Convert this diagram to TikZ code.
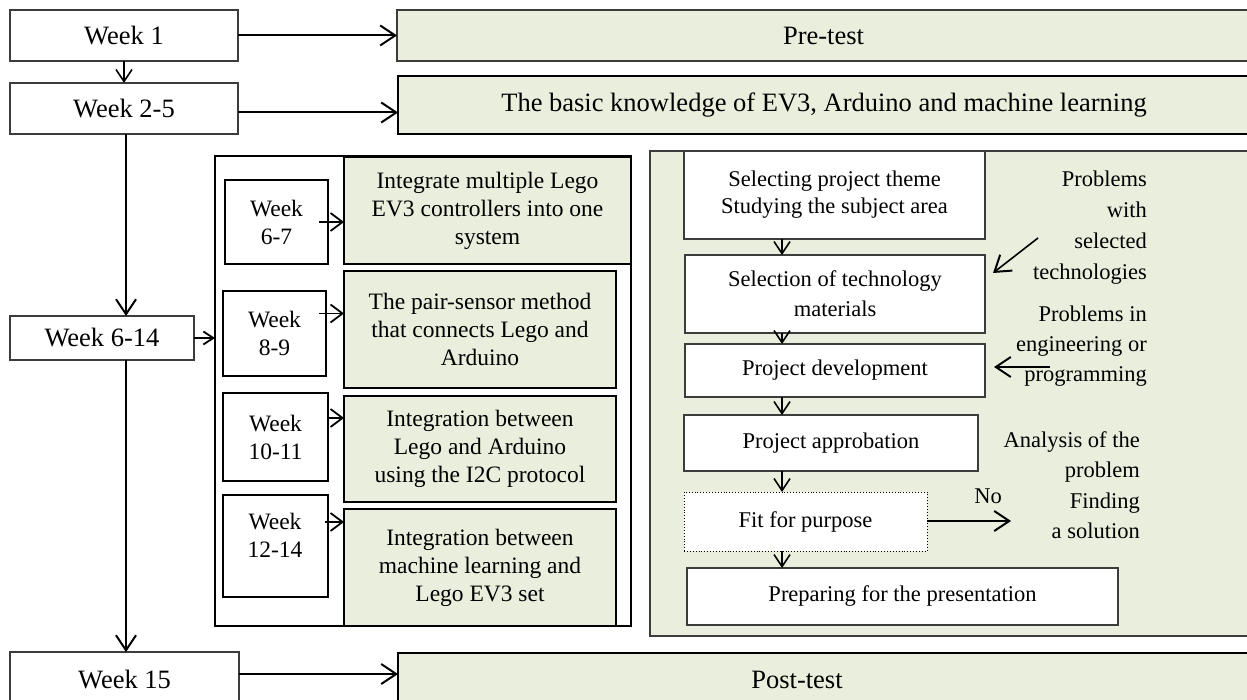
\documentclass[tikz,border=0pt]{standalone}
\usepackage{fontspec}
\setmainfont{Liberation Serif}
\usetikzlibrary{arrows.meta,calc}
\definecolor{gfill}{RGB}{234,238,221}
\definecolor{bgray}{RGB}{60,60,60}
\begin{document}
\begin{tikzpicture}[x=1pt,y=-1pt,
  box/.style={inner sep=0pt, outer sep=0pt, align=center, anchor=north west},
  sz/.style 2 args={minimum width=#1pt, minimum height=#2pt},
  mainf/.style={font=\fontsize{26.5}{30}\selectfont},
  innf/.style={font=\fontsize{23.5}{28}\selectfont},
  panf/.style={font=\fontsize{22.5}{27}\selectfont},
  wb/.style={box, draw=bgray, line width=1.2pt, fill=white},
  ib/.style={box, draw=black, line width=1.6pt, fill=white},
  gb/.style={box, draw=black, line width=1.8pt, fill=gfill},
  arr/.style={line width=2pt, -{Straight Barb[length=15pt,width=20pt,line width=2pt]}},
  iarr/.style={line width=1.8pt, -{Straight Barb[length=12pt,width=18pt,line width=1.8pt]}},
  sarr/.style={line width=1.6pt, -{Straight Barb[length=12pt,width=16pt,line width=1.6pt]}},
  rtxt/.style={anchor=east, align=right, inner sep=0pt, font=\fontsize{22.5}{31}\selectfont}
]
\useasboundingbox (0,0) rectangle (1247,700);
\clip (0,0) rectangle (1247,700);

% left column
\node[wb, mainf, sz={228}{51}] (w1) at (10,10) {Week 1};
\node[wb, mainf, sz={228}{51}] (w2) at (10,83) {Week 2-5};
\node[wb, mainf, sz={184}{44}] (w614) at (10,316) {Week 6-14};
\node[wb, mainf, sz={229}{56}] (w15) at (10,652) {Week 15};

% wide green boxes
\node[gb, mainf, line width=1.3pt, draw=bgray, sz={853}{51}] (pre) at (397,10) {Pre-test};
\node[gb, mainf, sz={852}{58}] (kn) at (398,76) {The basic knowledge of EV3, Arduino and machine learning};
\node[gb, line width=1.3pt, sz={852}{60}] (post) at (398,653) {};
\node[mainf, inner sep=0pt] (posttxt) at (797,680) {Post-test};

% inner container
\node[ib, line width=1.8pt, sz={416}{470}] (outer) at (215,156) {};
\node[ib, innf, sz={103}{84}] (w67) at (225,180) {Week\\6-7};
\node[gb, innf, sz={287}{107}] (g1) at (344,157) {Integrate multiple Lego\\EV3 controllers into one\\system};
\node[ib, innf, sz={103}{85}] (w89) at (223,291) {Week\\8-9};
\node[gb, innf, sz={272}{117}] (g2) at (344,271) {The pair-sensor method\\that connects Lego and\\Arduino};
\node[ib, innf, sz={105}{88}] (w1011) at (223,393) {Week\\10-11};
\node[gb, innf, sz={272}{106}] (g3) at (344,396) {Integration between\\Lego and Arduino\\using the I2C protocol};
\node[ib, innf, sz={105}{102}] (w1214) at (223,495) {};
\node[innf, inner sep=0pt, align=center] (w1214t) at (275,535) {Week\\12-14};
\node[gb, innf, sz={272}{117}] (g4) at (344,509) {Integration between\\machine learning and\\Lego EV3 set};

% right panel
\node[gb, draw=bgray, line width=1.3pt, sz={600}{485}] (panel) at (650,151) {};
\node[wb, panf, sz={301}{88}] (sel) at (684,151) {Selecting project theme\\Studying the subject area};
\node[wb, panf, sz={300}{78}] (tech) at (685,255) {Selection of technology\\[3pt]materials};
\node[wb, panf, sz={300}{53}] (dev) at (685,344) {Project development};
\node[wb, panf, sz={294}{56}] (appr) at (684,415) {Project approbation};
\node[box, panf, draw=black, line width=0.9pt, dotted, fill=white, sz={243}{59}] (fit) at (684,492) {Fit for purpose};
\node[wb, panf, sz={431}{57}] (prep) at (687,568) {Preparing for the presentation};

\node[rtxt] (p1) at (1147,228) {Problems\\with\\selected\\technologies};
\node[rtxt, font=\fontsize{22.5}{30}\selectfont] (p2) at (1147,346) {Problems in\\engineering or\\programming};
\node[rtxt, font=\fontsize{22.5}{30.5}\selectfont] (p3) at (1140,485) {Analysis of the\\problem\\Finding\\a solution};
\node[panf, inner sep=0pt] (no) at (988,496) {No};

% connectors: left column
\draw[arr] (w1.east) -- (w1.east -| pre.west);
\draw[sarr] (w1.south) -- (w2.north);
\draw[arr] ([yshift=-4pt]w2.east) -- ([yshift=-4pt]w2.east -| kn.west);
\coordinate (cx) at (126,0);
\draw[arr] (w2.south -| cx) -- (w614.north -| cx);
\draw[arr] (w614.south -| cx) -- (w15.north -| cx);
\draw[iarr, -{Straight Barb[length=10pt,width=13pt,line width=1.8pt]}] (w614.east) -- (w614.east -| outer.west);
\draw[arr] ([yshift=6pt]w15.east) -- ([yshift=6pt]w15.east -| post.west);

% inner arrows
\draw[iarr] ([xshift=-9pt]w67.east) -- (w67.east -| g1.west);
\draw[iarr] ([yshift=20pt,xshift=-7pt]w89.east) -- ([yshift=20pt]w89.east -| g2.west);
\draw[iarr] ([yshift=19pt]w1011.east) -- ([yshift=19pt]w1011.east -| g3.west);
\draw[iarr] ([yshift=24pt,xshift=-3pt]w1214.east) -- ([yshift=24pt]w1214.east -| g4.west);

% right panel arrows
\coordinate (ax) at (782,0);
\draw[sarr] (sel.south -| ax) -- (tech.north -| ax);
\draw[sarr] (tech.south -| ax) -- (dev.north -| ax);
\draw[sarr] (dev.south -| ax) -- (appr.north -| ax);
\draw[sarr] (appr.south -| ax) -- (fit.north -| ax);
\draw[sarr] (fit.south -| ax) -- (prep.north -| ax);
\coordinate (d1) at (1038,238);
\coordinate (d2) at (993,273);
\draw[arr, line width=1.6pt] (d1) -- (d2);
\coordinate (h1) at (1050,367);
\coordinate (h2) at (994,367);
\draw[arr, line width=1.6pt] (h1) -- (h2);
\coordinate (n2) at (1011,521);
\draw[arr, line width=1.6pt] (fit.east |- n2) -- (n2);
\end{tikzpicture}
\end{document}
